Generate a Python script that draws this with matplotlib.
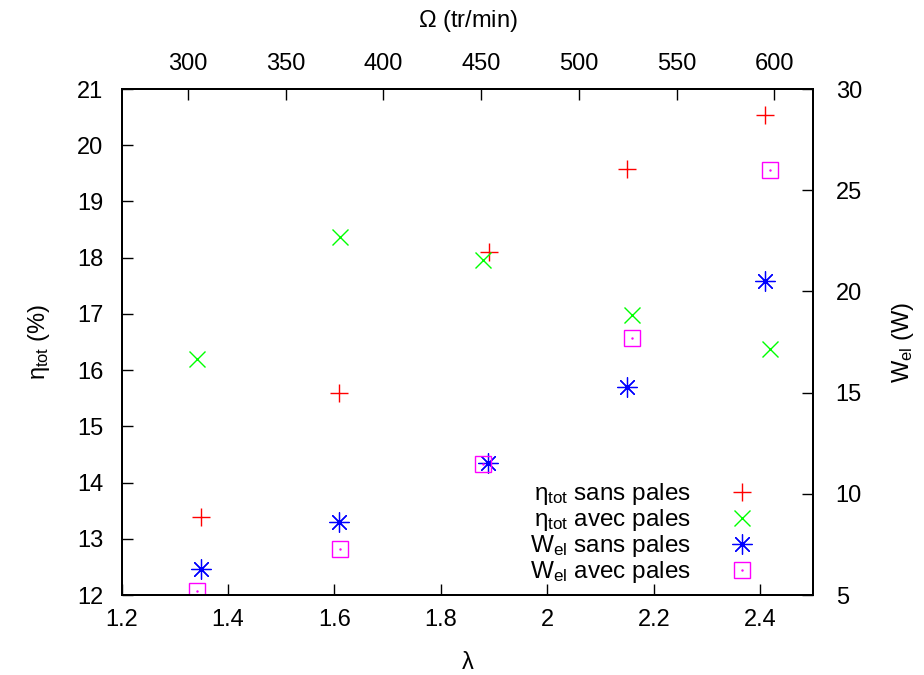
import matplotlib
matplotlib.use('Agg')
import matplotlib.pyplot as plt
from matplotlib.legend_handler import HandlerTuple

plt.rcParams['font.family'] = ['Liberation Sans', 'DejaVu Sans']
plt.rcParams['mathtext.fontset'] = 'custom'
plt.rcParams['mathtext.rm'] = 'Liberation Sans'
plt.rcParams['mathtext.it'] = 'Liberation Sans'
plt.rcParams['mathtext.bf'] = 'Liberation Sans:bold'

# data
lam_eta_sans = [1.349, 1.608, 1.890, 2.149, 2.408]
eta_sans = [13.39, 15.59, 18.11, 19.57, 20.53]
lam_eta_avec = [1.342, 1.610, 1.879, 2.159, 2.418]
eta_avec = [16.20, 18.36, 17.96, 16.98, 16.38]
lam_w_sans = [1.349, 1.609, 1.889, 2.149, 2.408]
w_sans = [6.28, 8.59, 11.51, 15.28, 20.50]
lam_w_avec = [1.341, 1.610, 1.879, 2.159, 2.418]
w_avec = [5.2, 7.27, 11.47, 17.70, 26.0]

lam_ticks = [1.2, 1.4, 1.6, 1.8, 2.0, 2.2, 2.4]
lam_labels = ['1.2', '1.4', '1.6', '1.8', '2', '2.2', '2.4']
omega_ticks = [300, 350, 400, 450, 500, 550, 600]
eta_ticks = list(range(12, 22))
w_ticks = [5, 10, 15, 20, 25, 30]

fs = 17
fig = plt.figure(figsize=(9.24, 6.75), dpi=100)
ax = fig.add_axes([0.1315, 0.1185, 0.7489, 0.7496])
ax2 = ax.twinx()
ax3 = ax.twiny()

ms = 12.5
h1, = ax.plot(lam_eta_sans, eta_sans, ls='none', marker='+', ms=ms, mew=1.0, color='#ff0000')
h2, = ax.plot(lam_eta_avec, eta_avec, ls='none', marker='x', ms=ms * 0.9, mew=1.0, color='#00ff00')
h3, = ax2.plot(lam_w_sans, w_sans, ls='none', marker=(8, 2, 0), ms=ms * 1.15, mew=0.9, color='#0000ff')
h4, = ax2.plot(lam_w_avec, w_avec, ls='none', marker='s', ms=ms * 0.95, mew=1.0,
               mfc='none', mec='#ff00ff')
h4d, = ax2.plot(lam_w_avec, w_avec, ls='none', marker='.', ms=1.5, color='#ff00ff')

ax.set_xlim(1.2, 2.5)
ax.set_ylim(12, 21)
ax2.set_ylim(5, 30)
ax3.set_xlim(266, 620)

ax.set_xticks(lam_ticks)
ax.set_xticklabels(lam_labels)
ax.set_yticks(eta_ticks)
ax2.set_yticks(w_ticks)
ax3.set_xticks(omega_ticks)

ax.tick_params(axis='x', direction='in', length=8, width=1, labelsize=fs, pad=10,
               top=False)
ax.tick_params(axis='y', direction='in', length=8, width=1, labelsize=fs, pad=13,
               right=False)
ax2.tick_params(axis='y', direction='in', length=8, width=1, labelsize=fs, pad=16)
ax3.tick_params(axis='x', direction='in', length=8, width=1, labelsize=fs, pad=10)

for a in (ax, ax2, ax3):
    for s in a.spines.values():
        s.set_linewidth(1.3)

ax.set_xlabel(r'$\lambda$', fontsize=fs, labelpad=15)
ax.set_ylabel(r'$\eta_{\mathrm{tot}}$ (%)', fontsize=fs, labelpad=18)
ax2.set_ylabel(r'W$_{\mathrm{el}}$ (W)', fontsize=fs, labelpad=20)
ax3.set_xlabel(r'$\Omega$ (tr/min)', fontsize=fs, labelpad=19)

ax2.legend([h1, h2, h3, (h4, h4d)],
           [r'$\eta_{\mathrm{tot}}$ sans pales', r'$\eta_{\mathrm{tot}}$ avec pales',
            r'W$_{\mathrm{el}}$ sans pales', r'W$_{\mathrm{el}}$ avec pales'],
           handler_map={tuple: HandlerTuple(ndivide=1, pad=0)},
           loc='lower right', bbox_to_anchor=(0.946, 0.0), borderaxespad=0,
           frameon=False, markerfirst=False, fontsize=fs + 0.5, numpoints=1,
           handlelength=2.0, handletextpad=1.1, labelspacing=0.0)

fig.savefig('out.png', dpi=100)
